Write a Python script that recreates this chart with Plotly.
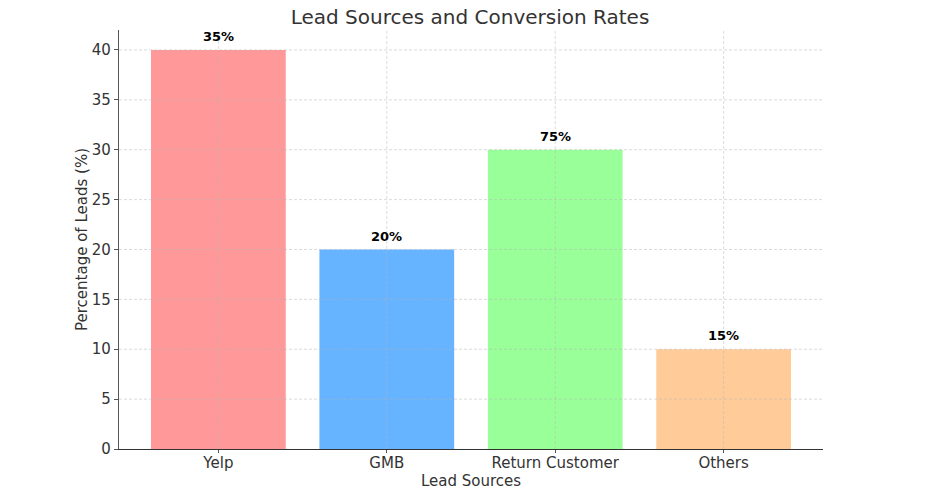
import plotly.graph_objects as go

categories = ["Yelp", "GMB", "Return Customer", "Others"]
lead_pct = [40, 20, 30, 10]
conversion_labels = ["35%", "20%", "75%", "15%"]
colors = ["#ff9999", "#66b3ff", "#99ff99", "#ffcc99"]
y_ticks = [0, 5, 10, 15, 20, 25, 30, 35, 40]

FONT = "DejaVu Sans"
W, H = 924, 494

fig = go.Figure()
fig.add_trace(go.Bar(
    x=categories, y=lead_pct,
    marker=dict(color=colors, line=dict(width=0)),
    width=0.8,
    hoverinfo="skip",
))

# conversion-rate labels just above each bar
for c, v, t in zip(categories, lead_pct, conversion_labels):
    fig.add_annotation(x=c, y=v + 1, text=f"<b>{t}</b>", showarrow=False,
                       xanchor="center", yanchor="bottom", yshift=-6,
                       font=dict(family=FONT, size=13, color="black"))

grid_line = dict(color="rgba(180,180,180,0.6)", width=0.8, dash="3px,2px")
shapes = []
for v in y_ticks[1:]:
    shapes.append(dict(type="line", xref="paper", yref="y", x0=0, x1=1, y0=v, y1=v,
                       line=grid_line, layer="above"))
for c in categories:
    shapes.append(dict(type="line", xref="x", yref="paper", x0=c, x1=c, y0=0, y1=1,
                       line=grid_line, layer="above"))

fig.update_layout(
    width=W, height=H,
    margin=dict(l=111, r=109, t=22, b=53),
    paper_bgcolor="white", plot_bgcolor="white",
    font=dict(family=FONT, size=15, color="#333333"),
    title=dict(text="Lead Sources and Conversion Rates", x=0.5, xanchor="center",
               y=1 - 8.5 / H, yanchor="middle", font=dict(size=20, color="#333333")),
    showlegend=False,
    shapes=shapes,
)
fig.update_xaxes(
    range=[-0.59, 3.59],
    showgrid=False, showline=True, linecolor="#333333", linewidth=1.2,
    ticks="outside", ticklen=3, tickcolor="#555555",
    tickfont=dict(size=15, color="#333333"),
    ticklabelstandoff=-3,
    title=dict(text="Lead Sources", font=dict(size=15, color="#333333"), standoff=2),
)
fig.update_yaxes(
    range=[0, 42], tickvals=y_ticks,
    showgrid=False, showline=True, linecolor="#555555", linewidth=1.2,
    ticks="outside", ticklen=4, tickcolor="#555555",
    tickfont=dict(size=15, color="#333333"),
    zeroline=False,
    title=dict(text="Percentage of Leads (%)", font=dict(size=15, color="#333333"), standoff=0),
)

fig.write_html("out.html")
